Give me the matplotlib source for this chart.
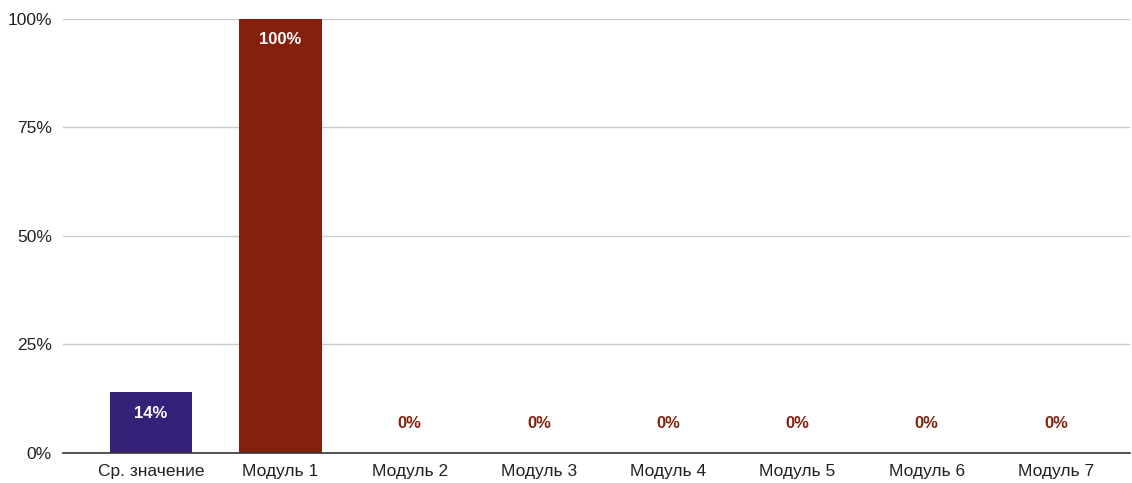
import matplotlib.pyplot as plt
from matplotlib.ticker import FuncFormatter

categories = ["Ср. значение", "Модуль 1", "Модуль 2", "Модуль 3",
              "Модуль 4", "Модуль 5", "Модуль 6", "Модуль 7"]
values = [14, 100, 0, 0, 0, 0, 0, 0]
y_ticks = [0, 25, 50, 75, 100]

purple = "#35207a"
red = "#85200c"
colors = [purple] + [red] * (len(values) - 1)

plt.rcParams['font.family'] = ['Liberation Sans', 'DejaVu Sans']

fig = plt.figure(figsize=(11.32, 4.83), dpi=100)
ax = fig.add_axes([0.0557, 0.0621, 0.9423, 0.8986])

x = list(range(len(categories)))
ax.bar(x, values, width=0.64, color=colors, zorder=3)

for i, v in enumerate(values):
    if v > 0:
        ax.annotate(f"{v}%", (i, v), xytext=(0, -15), textcoords="offset points",
                    ha="center", va="center", color="white",
                    fontsize=12, fontweight="bold", zorder=4)
    else:
        ax.annotate(f"{v}%", (i, v), xytext=(0, 21), textcoords="offset points",
                    ha="center", va="center", color=colors[i],
                    fontsize=12, fontweight="bold", zorder=4)

ax.set_xlim(-0.68, 7.57)
ax.set_ylim(0, 100)
ax.set_yticks(y_ticks)
ax.yaxis.set_major_formatter(FuncFormatter(lambda v, p: f"{int(v)}%"))
ax.set_xticks(x)
ax.set_xticklabels(categories)

ax.grid(axis="y", color="#cccccc", linewidth=1, zorder=0)
for s in ["top", "right", "left"]:
    ax.spines[s].set_visible(False)
ax.spines["bottom"].set_color("#333333")
ax.spines["bottom"].set_linewidth(1.2)
ax.spines["bottom"].set_zorder(5)

ax.tick_params(axis="x", length=0, pad=8, labelsize=12.5, labelcolor="#222222")
ax.tick_params(axis="y", length=0, pad=8, labelsize=12.5, labelcolor="#222222")

plt.savefig("out.png", dpi=100)
